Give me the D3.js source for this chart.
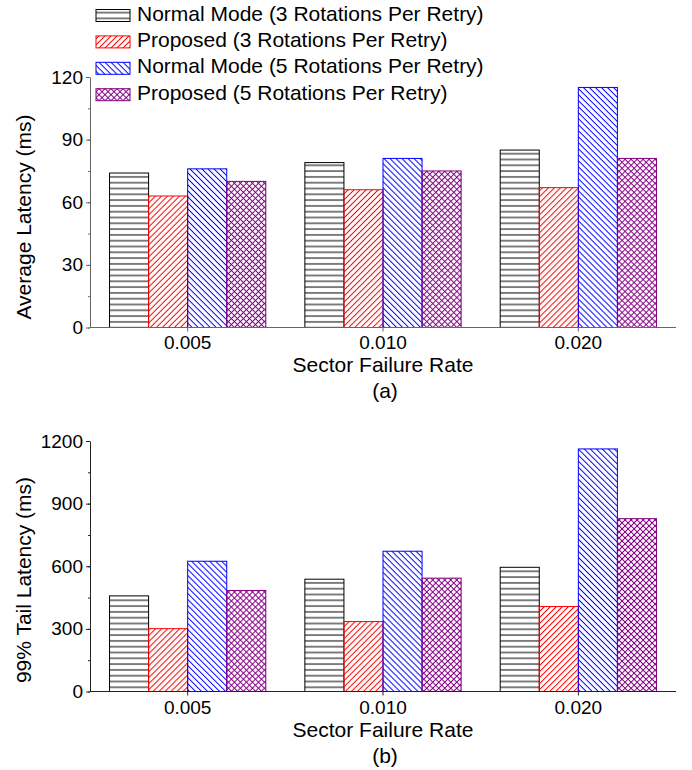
<!doctype html>
<html lang="en">
<head>
<meta charset="utf-8">
<title>Sector failure latency</title>
<script src="https://cdn.jsdelivr.net/npm/d3@7"></script>
<style>
  body { margin: 0; background: #fff; }
  svg text { font-family: "Liberation Sans", Arial, sans-serif; fill: #000; }
</style>
</head>
<body>
<svg id="chart" width="692" height="770"></svg>
<script>
// data
var rates = ["0.005", "0.010", "0.020"];
var seriesNames = [
  "Normal Mode (3 Rotations Per Retry)",
  "Proposed (3 Rotations Per Retry)",
  "Normal Mode (5 Rotations Per Retry)",
  "Proposed (5 Rotations Per Retry)"
];
// average latency (ms), one array per series
var avgNormal3 = [74, 79, 85];
var avgProposed3 = [63, 66, 67];
var avgNormal5 = [76, 81, 115];
var avgProposed5 = [70, 75, 81];
// 99% tail latency (ms)
var tailNormal3 = [458, 538, 595];
var tailProposed3 = [301, 335, 407];
var tailNormal5 = [624, 672, 1162];
var tailProposed5 = [484, 543, 828];
var avgTicks = [0, 30, 60, 90, 120];
var tailTicks = [0, 300, 600, 900, 1200];

var colors = ["#000000", "#ff0000", "#0000ff", "#800080"];
var patternIds = ["pat-h", "pat-fwd", "pat-back", "pat-cross"];
// rotation of the hatch lines for each pattern
var patternAngles = [[90], [45], [-45], [45, -45]];

var svg = d3.select("#chart");
var defs = svg.append("defs");

// hatch patterns, one per series (vertical line in a rotated tile)
patternIds.forEach(function(id, i) {
  var w = i == 0 ? 5.8 : 4.25;
  patternAngles[i].forEach(function(a, k) {
    var p = defs.append("pattern")
      .attr("id", k == 0 ? id : id + "-b")
      .attr("patternUnits", "userSpaceOnUse")
      .attr("width", w).attr("height", w)
      .attr("patternTransform", "rotate(" + a + ")");
    p.append("rect").attr("x", w / 2 - 0.5).attr("y", 0).attr("width", 1).attr("height", w)
      .style("fill", colors[i]);
  });
});

var left = 90, right = 676;

var x0 = d3.scaleBand().domain(rates).range([left, right]).paddingInner(0.2).paddingOuter(0.1);
var x1 = d3.scaleBand().domain(d3.range(4)).range([0, x0.bandwidth()]).padding(0);

// a hatched box: one rect per hatch direction, then the outline
function hatchBox(sel, s) {
  sel.append("rect").attr("class", "h1").style("fill", "url(#" + patternIds[s] + ")");
  if (patternAngles[s].length > 1) {
    sel.append("rect").attr("class", "h2").style("fill", "url(#" + patternIds[s] + "-b)");
  }
  sel.append("rect").attr("class", "edge").style("fill", "none")
    .style("stroke", colors[s]).style("stroke-width", 1);
}

function drawPanel(opt) {
  var y = d3.scaleLinear().domain([0, opt.max]).range([opt.bottom, opt.top]);
  var g = svg.append("g");

  // bars
  opt.series.forEach(function(vals, s) {
    var bars = g.selectAll(null).data(vals).enter().append("g");
    bars.each(function() { hatchBox(d3.select(this), s); });
    bars.selectAll("rect")
      .attr("x", function() { var i = vals.indexOf(d3.select(this.parentNode).datum()); return x0(rates[i]) + x1(s); })
      .attr("y", function() { return y(d3.select(this.parentNode).datum()); })
      .attr("width", x1.bandwidth())
      .attr("height", function() { return y(0) - y(d3.select(this.parentNode).datum()); });
  });

  // y axis with minor ticks
  var minor = d3.range(0, opt.max + 1, opt.max / 8);
  var ya = g.append("g").attr("transform", "translate(" + left + ",0)");
  ya.call(d3.axisLeft(y).tickValues(minor).tickSize(2).tickFormat("").tickSizeOuter(0));
  ya.append("g").call(d3.axisLeft(y).tickValues(opt.ticks).tickSize(4).tickSizeOuter(0)
      .tickPadding(3).tickFormat(d3.format("d")))
    .select(".domain").remove();
  ya.selectAll("path, line").attr("stroke", opt.axisColor);
  ya.selectAll("text").attr("font-size", 19).attr("fill", "#000");

  // x axis
  var xa = g.append("g").attr("transform", "translate(0," + opt.bottom + ")");
  xa.call(d3.axisBottom(x0).tickSize(4).tickSizeOuter(0).tickFormat(""));
  xa.select(".domain").attr("d", "M" + left + ",0H" + right);
  xa.selectAll("path, line").attr("stroke", opt.axisColor);

  g.selectAll(null).data(rates).enter().append("text")
    .attr("x", function(d) { return x0(d) + x0.bandwidth() / 2; })
    .attr("y", opt.tickBase)
    .attr("text-anchor", "middle")
    .attr("font-size", 19)
    .text(function(d) { return d; });

  g.append("text").attr("x", (left + right) / 2).attr("y", opt.tickBase + 23)
    .attr("text-anchor", "middle").attr("font-size", 21).text("Sector Failure Rate");
  g.append("text").attr("x", (left + right) / 2 + 2).attr("y", opt.tickBase + 49)
    .attr("text-anchor", "middle").attr("font-size", 21).text(opt.label);

  g.append("text")
    .attr("transform", "translate(31," + opt.titleY + ") rotate(-90)")
    .attr("text-anchor", "middle").attr("font-size", 21).text(opt.title);
}

drawPanel({
  top: 77, bottom: 327.5, max: 120, ticks: avgTicks,
  series: [avgNormal3, avgProposed3, avgNormal5, avgProposed5],
  axisColor: "#666", tickBase: 349, label: "(a)",
  title: "Average Latency (ms)", titleY: 217
});

drawPanel({
  top: 441, bottom: 691.5, max: 1200, ticks: tailTicks,
  series: [tailNormal3, tailProposed3, tailNormal5, tailProposed5],
  axisColor: "#222", tickBase: 714, label: "(b)",
  title: "99% Tail Latency (ms)", titleY: 580
});

// legend
var leg = svg.append("g");
var rows = leg.selectAll(null).data(seriesNames).enter().append("g")
  .attr("transform", function(d, i) { return "translate(96," + (15.5 + i * 26.4) + ")"; });
rows.each(function(d, i) { hatchBox(d3.select(this), i); });
rows.selectAll("rect").attr("x", 0).attr("y", -6).attr("width", 34).attr("height", 12);
rows.append("text").attr("x", 41).attr("y", 5).attr("font-size", 21)
  .text(function(d) { return d; });
</script>
</body>
</html>
